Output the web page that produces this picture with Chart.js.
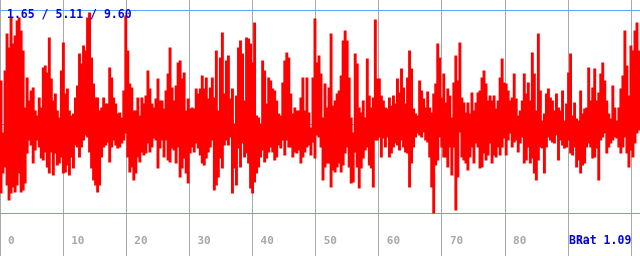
<!DOCTYPE html>
<html>
<head>
<meta charset="utf-8">
<script src="https://cdn.jsdelivr.net/npm/chart.js@4/dist/chart.umd.min.js"></script>
<style>
  html, body { margin: 0; padding: 0; background: #fff; }
  canvas { display: block; }
</style>
</head>
<body>
<canvas id="wave" width="640" height="256"></canvas>
<script>
// upper and lower envelope of the signal, one pair per sample column
var highs = [
  44,-8,54,91,77,107,81,89,104,107,94,74,17,47,24,34,37,14,9,27,17,57,59,52,87,46,24,31,14,7,54,82,31,36,14,9,11,27,39,71,61,79,74,107,112,67,41,27,27,14,17,27,21,
  21,57,47,27,21,11,12,7,34,109,74,41,37,14,14,27,9,27,21,29,54,36,21,17,26,46,24,24,16,34,51,77,37,24,39,62,64,46,52,14,26,16,17,16,36,31,36,49,36,47,26,37,47,
  27,74,14,67,92,31,64,69,26,36,1,29,77,84,71,24,87,86,81,62,102,9,7,1,64,54,21,47,44,36,34,24,11,9,42,64,72,67,31,11,17,14,14,27,47,14,47,12,-3,47,106,62,69,
  51,7,41,17,37,91,19,24,31,34,49,84,94,84,47,7,-8,71,61,17,12,24,7,66,29,17,27,105,46,46,29,24,17,16,27,19,29,21,46,32,56,37,21,47,74,56,16,11,9,44,34,26,17,
  33,17,12,31,41,81,67,27,51,22,36,29,7,42,69,44,82,27,22,12,22,11,32,14,22,32,34,47,54,41,24,29,24,29,16,24,47,66,42,41,34,24,27,51,26,9,14,24,51,31,42,24,72,
  51,14,91,34,4,11,31,36,27,24,14,31,17,14,34,4,21,52,71,9,22,6,4,34,11,16,17,57,24,37,56,24,32,51,62,44,24,11,6,39,17,4,17,36,49,94,59,29,79,74,94,102,74
];
var lows = [
  -69,-49,-43,-61,-76,-69,-63,-68,-61,-49,-68,-66,-59,-29,-16,-21,-39,-26,-16,-23,-34,-36,-28,-43,-49,-28,-51,-29,-41,-39,-33,-49,-48,-41,-51,-33,-44,-21,-23,-33,-23,-16,-11,-13,-28,-44,-56,-61,-68,-61,-33,-23,-21,
  -18,-38,-23,-16,-21,-24,-23,-19,-16,-9,-33,-48,-43,-56,-49,-33,-38,-28,-31,-29,-19,-28,-23,-14,-16,-44,-24,-16,-33,-16,-36,-38,-24,-26,-39,-23,-53,-44,-34,-49,-59,-29,-23,-28,-19,-24,-31,-39,-41,-34,-28,-23,-16,
  -66,-61,-53,-34,-44,-21,-16,-21,-13,-69,-44,-61,-24,-43,-19,-33,-29,-39,-64,-69,-58,-49,-43,-33,-26,-38,-34,-28,-23,-28,-36,-33,-21,-24,-16,-31,-16,-23,-23,-33,-28,-29,-26,-39,-33,-28,-23,-21,-31,-18,-34,-11,-13,
  -23,-56,-43,-39,-39,-63,-46,-48,-43,-39,-48,-41,-29,-23,-43,-59,-58,-28,-43,-64,-44,-34,-26,-23,-41,-44,-63,-16,-16,-13,-33,-14,-23,-13,-33,-29,-23,-19,-21,-26,-16,-23,-28,-29,-63,-39,-23,-13,-9,-11,-13,-8,-16,
  -18,-33,-63,-89,-41,-36,-13,-23,-33,-33,-43,-23,-51,-23,-86,-53,-8,-33,-36,-39,-46,-33,-23,-39,-19,-23,-44,-43,-29,-36,-31,-19,-39,-31,-33,-23,-31,-23,-14,-31,-16,-9,-23,-18,-16,-28,-19,-13,-39,-36,-23,-39,-34,
  -49,-56,-36,-23,-24,-49,-23,-13,-16,-18,-19,-11,-36,-16,-21,-24,-23,-16,-29,-31,-23,-43,-36,-49,-41,-39,-23,-19,-23,-34,-33,-24,-56,-16,-13,-9,-29,-23,-19,-16,-13,-14,-23,-29,-23,-13,-29,-43,-26,-33,-19,-9,-6
];
var xTicks = [0, 10, 20, 30, 40, 50, 60, 70, 80, 90, 100];
var levelLines = [114, 0, -89];
var statsText = '1.65 / 5.11 / 9.60';
var ratioText = 'BRat 1.09';

var xSpan = 101.38;
var step = xSpan / highs.length;

// blue captions drawn over the plot
var overlayText = {
    id: 'overlayText',
    afterDraw: function(chart) {
        var ctx = chart.ctx;
        ctx.save();
        ctx.fillStyle = '#0000ee';
        ctx.font = 'bold 11.5px "DejaVu Sans Mono"';
        ctx.textBaseline = 'middle';
        ctx.textAlign = 'left';
        ctx.fillText(statsText, 7, 15.5);
        ctx.fillText(ratioText, 569, 241);
        ctx.restore();
    }
};

new Chart(document.getElementById('wave'), {
    type: 'bar',
    data: {
        datasets: [{
            data: highs.map(function(h, i) {
                return {x: (i + 0.5) * step, y: [lows[i], h]};
            }),
            backgroundColor: '#ff0000',
            borderWidth: 0,
            barPercentage: 1.45,
            categoryPercentage: 1,
            grouped: false
        }]
    },
    options: {
        responsive: false,
        animation: false,
        devicePixelRatio: 1,
        events: [],
        layout: { padding: 0 },
        plugins: {
            legend: { display: false },
            tooltip: { enabled: false }
        },
        scales: {
            x: {
                type: 'linear',
                position: 'bottom',
                offset: false,
                min: 0,
                max: xSpan,
                afterBuildTicks: function(scale) {
                    scale.ticks = xTicks.map(function(v) { return {value: v}; });
                },
                afterFit: function(scale) {
                    scale.height = 28;
                    scale.paddingLeft = 0;
                    scale.paddingRight = 0;
                },
                grid: { offset: false, color: '#a8a8a8', lineWidth: 1, drawTicks: true, tickLength: 30, tickColor: '#a8a8a8' },
                border: { display: false },
                ticks: {
                    color: '#a8a8a8',
                    font: { family: 'DejaVu Sans Mono', size: 11, weight: 'bold' },
                    align: 'start',
                    labelOffset: 8,
                    padding: -23,
                    maxRotation: 0,
                    autoSkip: false
                }
            },
            y: {
                min: -103.5,
                max: 124.5,
                z: 1,
                afterBuildTicks: function(scale) {
                    scale.ticks = levelLines.map(function(v) { return {value: v}; });
                },
                grid: { color: '#55aaff', lineWidth: 1, drawTicks: false },
                border: { display: false },
                ticks: { display: false }
            }
        }
    },
    plugins: [overlayText]
});
</script>
</body>
</html>
